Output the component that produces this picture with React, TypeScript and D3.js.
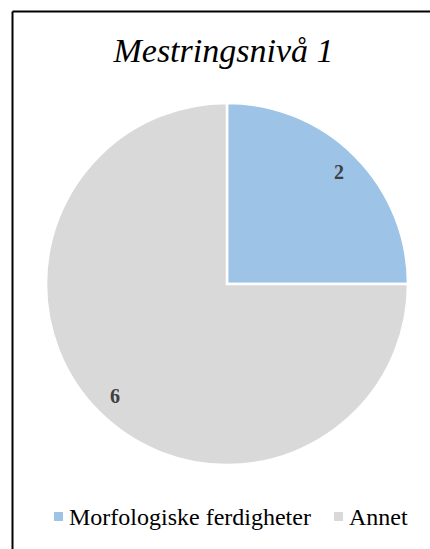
import React from "react";
import * as d3 from "d3";

const categories = ["Morfologiske ferdigheter", "Annet"];
const values = [2, 6];
const colors = ["#9DC3E6", "#D9D9D9"];
const title = "Mestringsnivå 1";

const W = 430;
const H = 549;
const cx = 227;
const cy = 284;
const R = 181;
const FONT = "Liberation Serif";

export default function App() {
  const pie = d3.pie<number>().sort(null).value((d) => d)(values);
  const arc = d3.arc<d3.PieArcDatum<number>>().innerRadius(0).outerRadius(R);
  const labelArc = d3.arc<d3.PieArcDatum<number>>().innerRadius(R * 0.875).outerRadius(R * 0.875);

  const legendX = [54, 334];
  return (
    <svg
      width={W}
      height={H}
      style={{ position: "absolute", left: 0, top: 0, background: "#fff" }}
    >
      <rect x={0} y={0} width={W} height={H} fill="#fff" />
      <line x1={12.5} y1={11.5} x2={W} y2={11.5} stroke="#000" strokeWidth={2} />
      <line x1={12.5} y1={11.5} x2={12.5} y2={H} stroke="#000" strokeWidth={2} />
      <text
        x={223.5}
        y={62}
        textAnchor="middle"
        fontFamily={FONT}
        fontStyle="italic"
        fontSize={34}
        fill="#000"
      >
        {title}
      </text>
      <g transform={`translate(${cx},${cy})`}>
        {pie.map((p, i) => (
          <path key={i} d={arc(p) || ""} fill={colors[i]} stroke="#fff" strokeWidth={2.5} />
        ))}
        {pie.map((p, i) => {
          const [x, y] = labelArc.centroid(p);
          return (
            <text
              key={"l" + i}
              x={x}
              y={y}
              dy="0.35em"
              textAnchor="middle"
              fontFamily={FONT}
              fontWeight="bold"
              fontSize={20}
              fill="#404040"
            >
              {values[i]}
            </text>
          );
        })}
      </g>
      <g>
        {categories.map((c, i) => (
          <g key={c}>
            <rect x={legendX[i]} y={512} width={9} height={9} fill={colors[i]} />
            <text
              x={legendX[i] + 15}
              y={525}
              fontFamily={FONT}
              fontSize={24}
              fill="#000"
            >
              {c}
            </text>
          </g>
        ))}
      </g>
    </svg>
  );
}
